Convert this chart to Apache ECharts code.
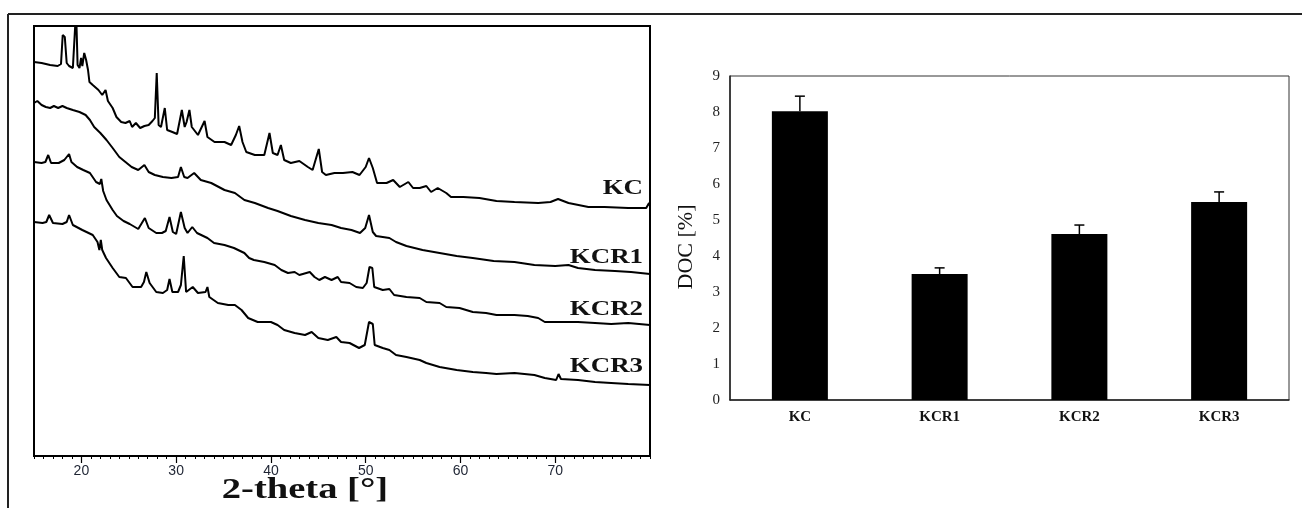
<!DOCTYPE html>
<html>
<head>
<meta charset="utf-8">
<script src="https://cdn.jsdelivr.net/npm/echarts@6/dist/echarts.min.js"></script>
<style>
html,body{margin:0;padding:0;background:#fff;}
#c{width:1302px;height:508px;}
</style>
</head>
<body>
<div id="c"></div>
<script>
// ---------- XRD patterns (2-theta [deg], stacked intensity a.u.) ----------
const xrdKC = [
[15.0,394],[15.8,393],[16.7,391],[17.5,390],[17.85,392],[18.03,421],[18.25,419],[18.45,393],[18.7,390],
[19.1,388],[19.3,390],[19.44,446],[19.6,391],[19.8,388],[19.97,398],[20.1,390],[20.3,403],[20.5,396],
[20.7,386],[20.85,374],[21.2,371],[21.8,366],[22.2,361],[22.55,366],[22.8,355],[23.3,348],[23.7,339],
[24.2,334],[24.65,333],[25.1,335],[25.35,329],[25.75,333],[26.2,328],[26.65,330],[27.1,331],[27.5,335],
[27.75,338],[27.95,383],[28.15,331],[28.4,329],[28.8,348],[29.05,326],[29.6,324],[30.1,322],[30.6,346],
[30.9,329],[31.1,334],[31.4,346],[31.65,329],[32.3,321],[33.0,335],[33.3,319],[34.05,314],[35.1,314],
[35.8,311],[36.3,321],[36.65,330],[37.0,314],[37.4,304],[38.3,301],[39.3,301],[39.85,323],[40.2,303],
[40.7,301],[41.05,311],[41.4,296],[42.1,293],[43.0,295],[43.9,289],[44.4,286],[45.05,307],[45.4,284],
[45.8,281],[46.7,283],[47.6,283],[48.6,284],[49.35,281],[50.0,289],[50.35,298],[50.75,288],[51.2,273],
[52.2,273],[52.9,276],[53.6,269],[54.5,274],[55.0,268],[55.7,268],[56.4,270],[56.9,264],[57.6,268],
[58.5,263],[59.0,259],[60.3,259],[62.0,258],[63.8,255],[65.7,254],[68.2,253],[69.5,254],[70.3,257],
[71.4,253],[73.5,249],[75.2,249],[77.7,248],[79.6,248],[79.9,253],[80.0,250]
];
const xrdKCR1 = [
[15.0,353],[15.35,355],[15.8,351],[16.25,349],[16.7,348],[17.1,350],[17.55,348],[18.0,350],[18.45,348],
[19.1,346],[19.8,344],[20.45,341],[20.9,336],[21.35,329],[22.0,323],[22.65,316],[23.3,308],[24.0,299],
[24.65,294],[25.3,289],[26.0,286],[26.65,291],[27.1,284],[27.75,281],[28.6,279],[29.5,278],[30.2,279],
[30.5,289],[30.85,279],[31.2,278],[31.9,283],[32.6,276],[33.7,273],[35.1,266],[36.2,263],[37.2,256],
[38.3,253],[39.7,248],[40.7,245],[42.1,240],[43.6,236],[45.0,233],[46.4,231],[47.4,228],[48.5,226],
[49.4,223],[49.95,228],[50.35,241],[50.75,224],[51.1,220],[52.5,218],[53.2,214],[54.3,210],[56.0,206],
[57.8,203],[59.6,200],[61.3,198],[63.5,195],[65.7,194],[67.8,191],[70.0,190],[71.4,191],[72.4,188],
[74.2,186],[76.3,185],[78.0,184],[80.0,182]
];
const xrdKCR2 = [
[15.0,294],[15.8,293],[16.2,294],[16.5,301],[16.8,293],[17.6,293],[18.2,296],[18.7,302],[18.95,294],
[19.55,289],[20.2,286],[20.9,283],[21.55,274],[21.95,272],[22.1,277],[22.3,265],[22.65,256],[23.3,246],
[23.75,240],[24.45,235],[25.1,232],[26.0,227],[26.7,238],[27.1,228],[27.9,223],[28.5,223],[28.9,225],
[29.3,239],[29.65,224],[30.0,222],[30.5,244],[30.9,228],[31.2,223],[31.7,229],[32.2,223],[33.3,218],
[34.0,213],[35.1,211],[36.1,208],[37.2,203],[37.7,198],[38.2,196],[39.3,194],[40.4,191],[41.1,186],
[41.8,183],[42.5,184],[43.0,181],[44.1,184],[44.6,179],[45.1,176],[45.7,179],[46.4,176],[47.05,179],
[47.4,174],[48.3,173],[49.0,169],[49.7,168],[50.1,173],[50.4,189],[50.7,188],[50.9,169],[51.8,166],
[52.5,167],[53.0,161],[54.3,159],[55.7,158],[56.4,154],[57.8,153],[58.5,149],[59.9,148],[61.3,144],
[62.7,143],[63.8,141],[65.7,141],[67.1,140],[68.2,138],[68.9,134],[70.6,134],[72.4,134],[74.2,133],
[75.9,132],[77.7,133],[80.0,131]
];
const xrdKCR3 = [
[15.0,234],[15.9,233],[16.3,234],[16.6,241],[17.0,233],[18.0,232],[18.45,234],[18.7,241],[19.1,231],
[20.1,226],[21.2,221],[21.7,214],[21.9,206],[22.05,216],[22.2,206],[22.6,198],[23.3,188],[24.0,179],
[24.7,178],[25.4,169],[26.3,169],[26.6,174],[26.85,184],[27.2,173],[27.9,164],[28.6,163],[29.05,166],
[29.3,177],[29.6,164],[30.2,164],[30.5,171],[30.8,200],[31.05,164],[31.75,169],[32.3,163],[33.1,164],
[33.3,169],[33.5,159],[34.4,153],[35.5,151],[36.2,151],[36.9,146],[37.6,138],[38.6,134],[40.0,134],
[40.7,131],[41.4,126],[42.5,123],[43.6,121],[44.3,124],[45.0,118],[46.0,116],[46.9,119],[47.4,114],
[48.3,113],[49.3,108],[49.9,111],[50.35,134],[50.75,132],[50.95,111],[51.8,108],[52.5,106],[53.2,101],
[54.3,99],[55.7,96],[56.4,93],[57.8,89],[59.6,86],[61.3,84],[62.7,83],[63.8,82],[65.7,83],[67.8,81],
[68.9,78],[70.1,76],[70.35,82],[70.6,77],[72.4,76],[74.2,74],[75.9,73],[77.7,72],[80.0,71]
];
const xrdNames = ['KC','KCR1','KCR2','KCR3'];
const xrdTicks = [20,30,40,50,60,70];

// ---------- DOC bar chart ----------
const docCategories = ['KC','KCR1','KCR2','KCR3'];
const docValues = [8.02, 3.5, 4.61, 5.5];
const docErrors = [0.42, 0.17, 0.25, 0.28];

const chart = echarts.init(document.getElementById('c'), null, {renderer:'canvas'});
const serif = "'Liberation Serif','Times New Roman',serif";
const sans = "'Liberation Sans',Arial,sans-serif";

const xrdSeries = [xrdKC, xrdKCR1, xrdKCR2, xrdKCR3].map((d,i)=>({
  name: xrdNames[i], type:'line', xAxisIndex:0, yAxisIndex:0, data:d,
  showSymbol:false, symbol:'none', clip:true, animation:false,
  lineStyle:{color:'#000', width:2}
}));

const labelY = [189, 258, 310, 367];

chart.setOption({
  backgroundColor:'#fff',
  animation:false,
  grid:[
    {left:34, top:26, width:616, height:430, show:true, borderColor:'#000', borderWidth:2, backgroundColor:'transparent'},
    {left:730, top:76, width:559, height:324, show:true, borderColor:'#333', borderWidth:1, backgroundColor:'transparent'}
  ],
  xAxis:[
    {gridIndex:0, type:'value', min:15, max:80, interval:1,
     axisLine:{show:true, lineStyle:{color:'#000', width:2}},
     axisTick:{show:true, length:3, lineStyle:{color:'#000', width:1}},
     axisLabel:{show:false}, splitLine:{show:false}},
    {gridIndex:0, type:'value', min:15, max:80, position:'bottom',
     axisLine:{show:false},
     axisTick:{show:true, customValues:xrdTicks, length:7, lineStyle:{color:'#000', width:1.2}},
     axisLabel:{show:true, customValues:xrdTicks, margin:8, fontFamily:sans, fontSize:14, color:'#1e2433'},
     splitLine:{show:false}},
    {gridIndex:1, type:'category', data:docCategories,
     axisLine:{show:true, lineStyle:{color:'#222', width:1.5}},
     axisTick:{show:false},
     axisLabel:{fontFamily:serif, fontWeight:'bold', fontSize:15, color:'#111', margin:10}}
  ],
  yAxis:[
    {gridIndex:0, type:'value', min:0, max:430, show:false},
    {gridIndex:1, type:'value', min:0, max:9, interval:1,
     axisLine:{show:true, lineStyle:{color:'#222', width:1.5}},
     axisTick:{show:false}, splitLine:{show:false},
     axisLabel:{fontFamily:serif, fontSize:15, color:'#222', margin:10}}
  ],
  series:[
    ...xrdSeries,
    {type:'bar', xAxisIndex:2, yAxisIndex:1, data:docValues, barWidth:56,
     itemStyle:{color:'#000'}, z:2},
    {type:'custom', xAxisIndex:2, yAxisIndex:1, z:3,
     data: docCategories.map((c,i)=>[i, docValues[i], docErrors[i]]),
     encode:{x:0, y:1},
     renderItem:function(params, api){
       const i = api.value(0), v = api.value(1), e = api.value(2);
       const b = api.coord([i, v]);
       const t = api.coord([i, v + e]);
       return {type:'group', children:[
         {type:'line', shape:{x1:b[0], y1:b[1], x2:t[0], y2:t[1]}, style:{stroke:'#000', lineWidth:1.5}},
         {type:'line', shape:{x1:t[0]-5, y1:t[1], x2:t[0]+5, y2:t[1]}, style:{stroke:'#000', lineWidth:1.5}}
       ]};
     }}
  ],
  graphic:[
    {type:'line', shape:{x1:8, y1:14, x2:1302, y2:14}, style:{stroke:'#222', lineWidth:2}},
    {type:'line', shape:{x1:8, y1:14, x2:8, y2:508}, style:{stroke:'#222', lineWidth:2}},
    ...xrdNames.map((n,i)=>({type:'text', x:643, y:labelY[i], scaleX:1.28,
      style:{text:n, align:'right', verticalAlign:'middle', fontFamily:serif, fontWeight:'bold', fontSize:21, fill:'#111'}})),
    {type:'text', x:305, y:491, scaleX:1.33,
     style:{text:'2-theta [°]', align:'center', verticalAlign:'middle', fontFamily:serif, fontWeight:'bold', fontSize:29, fill:'#111'}},
    {type:'text', x:686, y:247, rotation:Math.PI/2,
     style:{text:'DOC [%]', align:'center', verticalAlign:'middle', fontFamily:serif, fontSize:22, fill:'#111'}}
  ]
});
</script>
</body>
</html>
